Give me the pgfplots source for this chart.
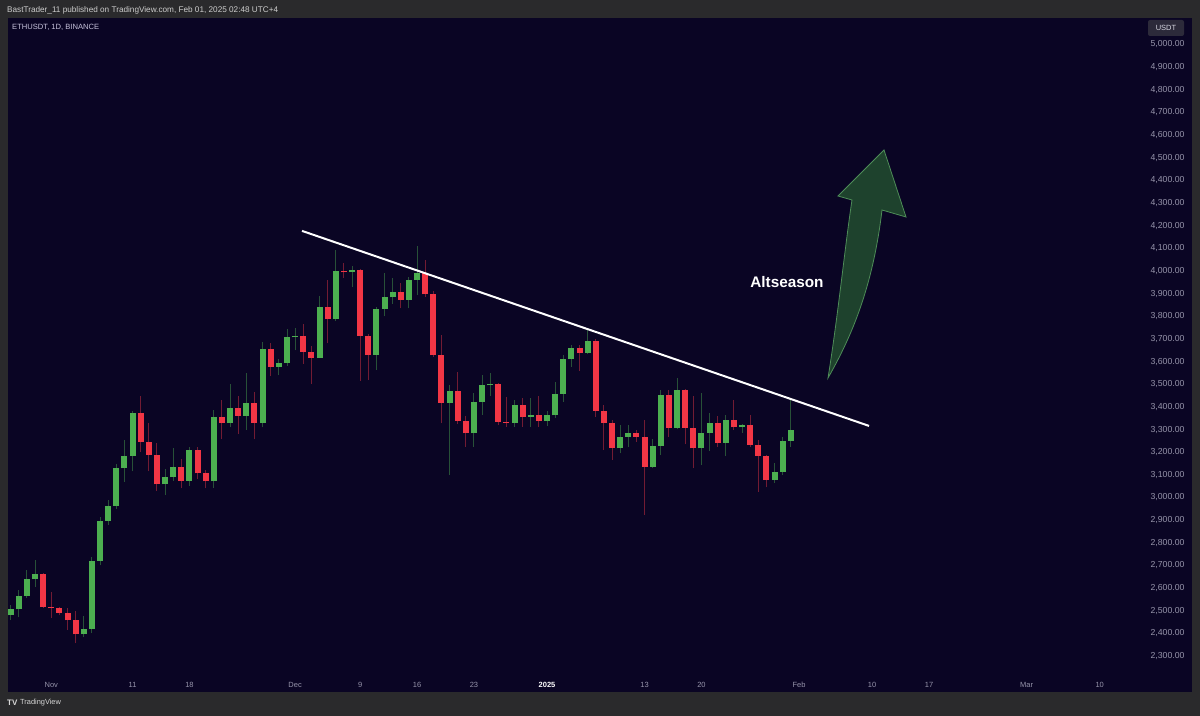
\documentclass[border=0pt]{standalone}
\usepackage{pgfplots}
\pgfplotsset{compat=1.18}
\usepackage{pgfplotstable}
\usepackage{fontspec}
\setmainfont{Liberation Sans}
\definecolor{frame}{RGB}{42,42,44}
\definecolor{panel}{RGB}{10,5,36}
\definecolor{cgreen}{RGB}{76,175,80}
\definecolor{cred}{RGB}{242,54,69}
\definecolor{ticktext}{RGB}{150,148,170}
\definecolor{arrowfill}{RGB}{36,82,48}
\definecolor{arrowedge}{RGB}{78,140,88}
\colorlet{wgreen}{cgreen!45!panel}
\colorlet{wred}{cred!45!panel}

\pgfplotstableread{
k o h l c
0 2480 2525 2459 2506
1 2506 2592 2471 2566
2 2566 2680 2556 2639
3 2639 2724 2606 2661
9 2396 2477 2383 2421
10 2421 2739 2400 2721
11 2721 2915 2700 2896
12 2896 2990 2880 2964
13 2964 3150 2950 3129
14 3129 3254 3070 3185
15 3185 3384 3115 3372
19 3058 3125 3010 3090
20 3090 3220 3073 3133
22 3074 3225 3050 3210
25 3071 3386 3041 3357
27 3328 3500 3310 3394
29 3361 3548 3298 3416
31 3328 3687 3310 3656
33 3578 3610 3540 3595
34 3595 3743 3580 3707
35 3707 3747 3650 3712
38 3615 3890 3615 3840
40 3787 4093 3780 4001
42 3994 4020 3930 4004
45 3629 3840 3565 3834
46 3834 3993 3800 3884
47 3884 3970 3855 3909
49 3872 3975 3835 3960
50 3960 4110 3895 3990
54 3419 3497 3099 3472
57 3283 3460 3225 3422
58 3422 3540 3365 3495
59 3495 3550 3450 3501
62 3330 3430 3313 3407
64 3357 3438 3313 3364
66 3337 3380 3315 3362
67 3362 3511 3350 3457
68 3457 3629 3423 3610
69 3610 3673 3578 3659
71 3637 3740 3633 3690
75 3217 3320 3195 3268
76 3268 3320 3222 3283
79 3136 3260 3130 3227
80 3227 3475 3188 3453
82 3308 3526 3301 3475
85 3217 3460 3143 3286
86 3286 3372 3207 3330
88 3242 3364 3183 3342
90 3310 3325 3285 3318
94 3077 3151 3063 3114
95 3114 3268 3100 3249
96 3249 3430 3222 3297
}\greendata

\pgfplotstableread{
k o h l c
4 2661 2665 2510 2517
5 2517 2583 2469 2510
6 2510 2515 2480 2492
7 2492 2511 2417 2457
8 2457 2500 2356 2396
16 3372 3448 3200 3244
17 3244 3330 3115 3188
18 3188 3240 3030 3058
21 3133 3170 3040 3074
23 3210 3225 3080 3107
24 3107 3120 3040 3071
26 3357 3430 3257 3328
28 3394 3450 3280 3361
30 3416 3465 3257 3328
32 3656 3680 3535 3578
36 3712 3765 3590 3644
37 3644 3670 3500 3615
39 3840 3960 3680 3787
41 4001 4034 3968 3994
43 4004 4010 3515 3713
44 3713 3720 3520 3629
48 3909 3945 3835 3872
51 3990 4050 3885 3897
52 3897 3910 3620 3628
53 3628 3717 3327 3419
55 3472 3555 3325 3339
56 3339 3358 3225 3283
60 3501 3505 3320 3335
61 3335 3445 3313 3330
63 3407 3438 3313 3357
65 3364 3450 3313 3337
70 3659 3673 3558 3637
72 3690 3700 3357 3383
73 3383 3408 3210 3328
74 3328 3342 3166 3217
77 3283 3300 3245 3268
78 3268 3342 2923 3136
81 3453 3475 3268 3308
83 3475 3480 3235 3308
84 3308 3448 3129 3217
87 3330 3360 3222 3242
89 3342 3430 3298 3310
91 3318 3364 3222 3232
92 3232 3254 3026 3183
93 3183 3188 3045 3077
}\reddata

\pgfplotsset{candle/.style={only marks, mark=none, mark size=0pt,
  mark options={draw opacity=0, fill opacity=0}, forget plot}}

\begin{document}
\begin{tikzpicture}[x=1bp,y=1bp]
\fill[frame] (0,0) rectangle (1200,716);
\begin{axis}[
  at={(8bp,24bp)}, anchor=south west,
  scale only axis, width=1184bp, height=674bp,
  xmin=-0.33, xmax=145.36, ymin=2141.3, ymax=5117,
  axis background/.style={fill=panel},
  axis line style={draw=none},
  major tick length=0pt,
  ytick={2300,2400,...,5000},
  yticklabel pos=right,
  yticklabel style={anchor=east, xshift=-4bp, font=\fontsize{8.7bp}{10bp}\selectfont, text=ticktext},
  /pgf/number format/fixed,
  /pgf/number format/fixed zerofill,
  /pgf/number format/precision=2,
  /pgf/number format/1000 sep={,},
  /pgf/number format/assume math mode=true,
  xtick={5,15,22,35,43,50,57,66,78,85,97,106,113,125,134},
  xticklabels={Nov,11,18,Dec,9,16,23,{\color{white}\bfseries 2025},13,20,Feb,10,17,Mar,10},
  xticklabel style={anchor=center, yshift=7bp, font=\fontsize{7.5bp}{9bp}\selectfont, text=ticktext},
  clip=true,
]
% wicks
\addplot[candle, color=wgreen,
  error bars/.cd, y dir=plus, y explicit, error mark=none,
  error bar style={line width=1bp, color=wgreen}]
  table[x=k, y=l, y error plus expr=\thisrow{h}-\thisrow{l}] {\greendata};
\addplot[candle, color=wred,
  error bars/.cd, y dir=plus, y explicit, error mark=none,
  error bar style={line width=1bp, color=wred}]
  table[x=k, y=l, y error plus expr=\thisrow{h}-\thisrow{l}] {\reddata};
% bodies
\addplot[candle, color=cgreen,
  error bars/.cd, y dir=plus, y explicit, error mark=none,
  error bar style={line width=6bp, color=cgreen}]
  table[x=k, y=o, y error plus expr=\thisrow{c}-\thisrow{o}] {\greendata};
\addplot[candle, color=cred,
  error bars/.cd, y dir=plus, y explicit, error mark=none,
  error bar style={line width=6bp, color=cred}]
  table[x=k, y=c, y error plus expr=\thisrow{o}-\thisrow{c}] {\reddata};
% trend line
\addplot[white, line width=2bp, no marks] coordinates {(35.85,4177) (105.62,3316)};
\end{axis}
% arrow
\filldraw[fill=arrowfill, fill opacity=0.8, draw=arrowedge, line width=0.8bp]
  (828,338) .. controls (838,400) and (845,470) .. (852,516) -- (838,520) -- (884,566)
  -- (906,499) -- (882,506) .. controls (873,430) and (852,380) .. (828,338) -- cycle;
\node[font=\fontsize{15.3bp}{18bp}\selectfont\bfseries, text=white] at (787,434) {Altseason};
% header texts
\node[anchor=west, font=\fontsize{8.2bp}{9bp}\selectfont, text={rgb,255:red,205;green,205;blue,205}, inner sep=0pt] at (7,706) {BastTrader\_11 published on TradingView.com, Feb 01, 2025 02:48 UTC+4};
\node[anchor=west, font=\fontsize{7.6bp}{9bp}\selectfont, text={rgb,255:red,200;green,196;blue,220}, inner sep=0pt] at (12,689) {ETHUSDT, 1D, BINANCE};
\fill[rounded corners=2bp, fill={rgb,255:red,44;green,42;blue,58}] (1148,680) rectangle (1184,696);
\node[font=\fontsize{7.5bp}{9bp}\selectfont, text={rgb,255:red,215;green,215;blue,225}, inner sep=0pt] at (1166,688) {USDT};
% footer
\node[anchor=west, font=\fontsize{8bp}{9bp}\selectfont\bfseries, text={rgb,255:red,215;green,215;blue,215}, inner sep=0pt] at (7,13) {TV};
\node[anchor=west, font=\fontsize{7.4bp}{9bp}\selectfont, text={rgb,255:red,215;green,215;blue,215}, inner sep=0pt] at (20,13) {TradingView};
\end{tikzpicture}
\end{document}
